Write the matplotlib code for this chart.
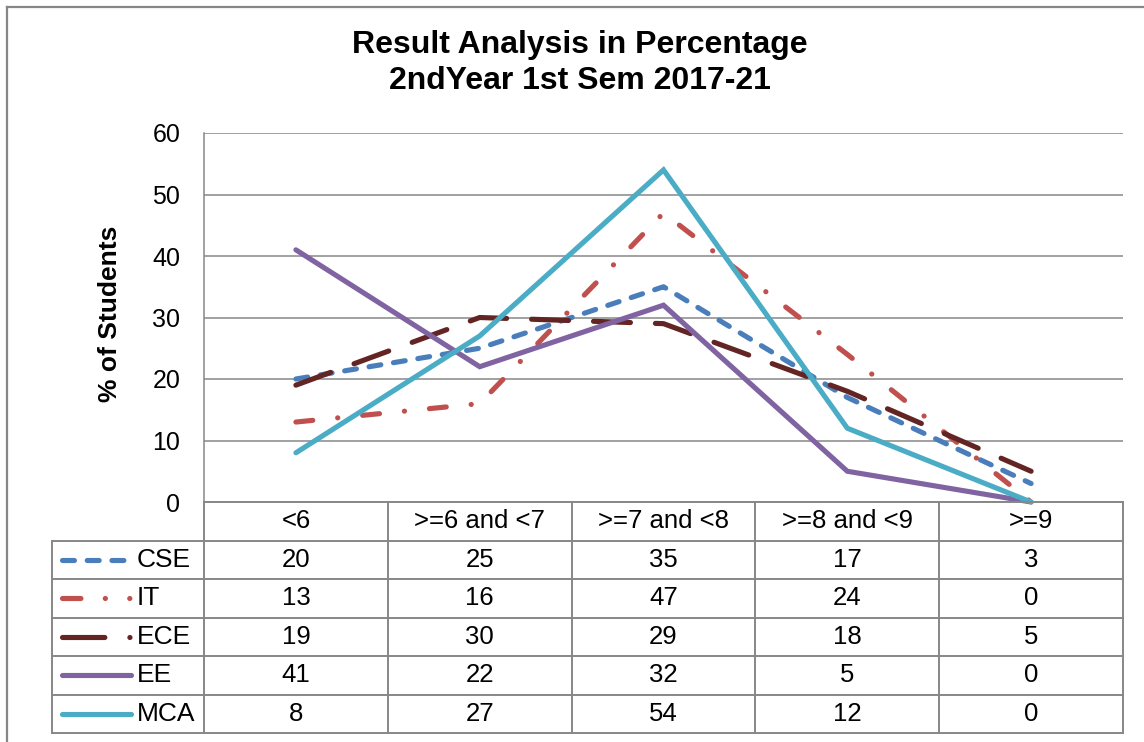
import matplotlib
matplotlib.use("Agg")
import matplotlib.pyplot as plt
from matplotlib.lines import Line2D

plt.rcParams['font.family'] = ['Liberation Sans', 'DejaVu Sans']
plt.rcParams['lines.scale_dashes'] = False

categories = ['<6', '>=6 and <7', '>=7 and <8', '>=8 and <9', '>=9']
series_names = ['CSE', 'IT', 'ECE', 'EE', 'MCA']
cse = [20, 25, 35, 17, 3]
it = [13, 16, 47, 24, 0]
ece = [19, 30, 29, 18, 5]
ee = [41, 22, 32, 5, 0]
mca = [8, 27, 54, 12, 0]
series_values = [cse, it, ece, ee, mca]

colors = ['#4a7ebb', '#c0504d', '#632523', '#8064a2', '#4bacc6']
dashes = [(8.6, 9.2), (12.2, 18, 0.1, 18), (26.6, 18), None, None]
key_dashes = [(8.6, 9.2), (13.3, 17.5, 0.1, 17.5, 0.1, 100), (30.5, 18, 0.1, 100), None, None]
grid_col = '#878787'
LW = 3.7

W, H = 1144, 742
fig = plt.figure(figsize=(W / 100, H / 100), dpi=100)

# outer chart frame
fig.add_artist(Line2D([7 / W, 7 / W], [0, 1 - 7 / H], transform=fig.transFigure,
                      color=grid_col, lw=1.6))
fig.add_artist(Line2D([7 / W, 1], [1 - 7 / H, 1 - 7 / H], transform=fig.transFigure,
                      color=grid_col, lw=1.6))

# plot area
ax = fig.add_axes([204 / W, (H - 502) / H, 919 / W, 369 / H])
x = list(range(len(categories)))
for name, vals, c, d in zip(series_names, series_values, colors, dashes):
    line, = ax.plot(x, vals, color=c, lw=LW, clip_on=False, zorder=3,
                    solid_capstyle='round', dash_capstyle='round',
                    solid_joinstyle='miter')
    if d is not None:
        line.set_dashes(d)

ax.set_xlim(-0.5, len(categories) - 0.5)
ax.set_ylim(0, 60)
ax.set_yticks(range(0, 61, 10))
ax.set_xticks([])
ax.yaxis.grid(True, color=grid_col, lw=1.1)
ax.set_axisbelow(True)
for s in ['top', 'right', 'bottom']:
    ax.spines[s].set_visible(False)
ax.spines['left'].set_color(grid_col)
ax.spines['left'].set_linewidth(1.1)
ax.tick_params(axis='y', length=0, pad=17, labelsize=18)

fig.text(110 / W, 1 - 314 / H, '% of Students', rotation=90, ha='center', va='center',
         fontsize=19, fontweight='bold')
fig.text(580 / W, 1 - 63 / H, 'Result Analysis in Percentage\n2ndYear 1st Sem 2017-21',
         ha='center', va='center', fontsize=23, fontweight='bold', linespacing=1.25)

# data table
colw = 919 / len(categories)
tx = lambda px: (px - 204) / colw - 0.5
tab = fig.add_axes([52 / W, (H - 733) / H, (1123 - 52) / W, 231 / H])
xl = tx(52)
n = len(categories)
tab.set_xlim(xl, n - 0.5)
tab.set_ylim(len(series_names) + 1, 0)
tab.axis('off')

lk = dict(color=grid_col, lw=1.4, clip_on=False)
tab.plot([-0.5, n - 0.5], [0, 0], **lk)
for r in range(1, len(series_names) + 2):
    tab.plot([xl, n - 0.5], [r, r], **lk)
tab.plot([xl, xl], [1, len(series_names) + 1], **lk)
for k in range(n + 1):
    tab.plot([k - 0.5, k - 0.5], [0, len(series_names) + 1], **lk)

for i, cat in enumerate(categories):
    tab.text(i, 0.5, cat, ha='center', va='center', fontsize=18.5)

for r, (name, vals, c, kd) in enumerate(zip(series_names, series_values, colors, key_dashes)):
    y = r + 1.5
    key, = tab.plot([tx(62), tx(131)], [y, y], color=c, lw=LW,
                    solid_capstyle='round', dash_capstyle='round', clip_on=False)
    if kd is not None:
        key.set_dashes(kd)
    tab.text(tx(137), y, name, ha='left', va='center', fontsize=19)
    for i, v in enumerate(vals):
        tab.text(i, y, str(v), ha='center', va='center', fontsize=18.5)

fig.savefig('out.png', dpi=100)
